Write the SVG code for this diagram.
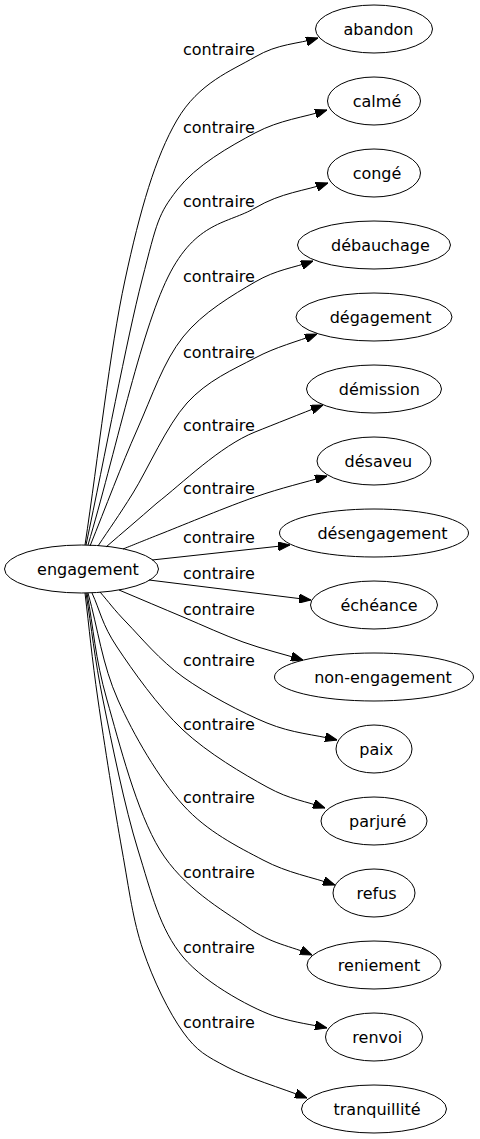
<svg xmlns="http://www.w3.org/2000/svg" width="480" height="1139" viewBox="0 0 480 1139">
<style>
  text { font-family: "DejaVu Sans", "Liberation Sans", sans-serif; font-size: 16px; fill: #000; }
  .node ellipse { fill: none; stroke: #000; stroke-width: 1; }
  .node text { text-anchor: middle; }
  .edge path { fill: none; stroke: #000; stroke-width: 1; marker-end: url(#arrow); }
  .edge text { text-anchor: start; }
</style>
<defs>
  <marker id="arrow" viewBox="0 0 12 9" refX="12" refY="4.5" markerWidth="12" markerHeight="9" markerUnits="userSpaceOnUse" orient="auto">
    <path d="M0,0 L12,4.5 L0,9 Z" fill="#000" stroke="#000" stroke-width="1"/>
  </marker>
</defs>
<rect x="0" y="0" width="480" height="1139" fill="#fff"/>
<g id="connectors">
  <g class="edge" id="e-abandon"><path d="M85,545 C98.3,456.7 109.7,350.8 125,280 C140.3,209.2 155.3,157.2 177,120 C198.7,82.8 231.5,70.7 255,57 C278.5,43.3 297,44.3 318,38"/><text x="183" y="55">contraire</text></g>
  <g class="edge" id="e-calme"><path d="M86,545 C104.7,456.7 126.8,339.2 142,280 C157.2,220.8 158.2,214.5 177,190 C195.8,165.5 230,146.3 255,133 C280,119.7 303,117.7 327,110"/><text x="183" y="133">contraire</text></g>
  <g class="edge" id="e-conge"><path d="M88,545 C114.7,455.7 140.2,333.2 168,277 C195.8,220.8 228.3,223.7 255,208 C281.7,192.3 303.7,191.3 328,183"/><text x="183" y="207">contraire</text></g>
  <g class="edge" id="e-debauchage"><path d="M90,546 C105.7,507.3 121.5,464.8 137,430 C152.5,395.2 163.3,361.7 183,337 C202.7,312.3 233.3,294.7 255,282 C276.7,269.3 293.7,268 313,261"/><text x="183" y="282">contraire</text></g>
  <g class="edge" id="e-degagement"><path d="M98,546 C109.7,528.3 118.2,516.8 133,493 C147.8,469.2 166.7,425.5 187,403 C207.3,380.5 233.3,369.5 255,358 C276.7,346.5 296.3,342 317,334"/><text x="183" y="358">contraire</text></g>
  <g class="edge" id="e-demission"><path d="M106,547 C123,532.3 138.5,519.2 157,503 C181.8,483.8 220,446 255,432 C275,424 300.3,414 323,405"/><text x="183" y="431">contraire</text></g>
  <g class="edge" id="e-desaveu"><path d="M123,549 C136.3,543.7 141,541.7 163,533 C185,524.3 227.7,506.5 255,497 C282.3,487.5 303,483 327,476"/><text x="183" y="494">contraire</text></g>
  <g class="edge" id="e-desengagement"><path d="M152,560 L290,545"/><text x="183" y="543">contraire</text></g>
  <g class="edge" id="e-echeance"><path d="M149,580 L311,600"/><text x="183" y="579">contraire</text></g>
  <g class="edge" id="e-non-engagement"><path d="M119,590 C140.3,599 162.3,608.3 183,617 C203.7,625.7 223,634.8 243,642 C263,649.2 283,654 303,660"/><text x="183" y="615">contraire</text></g>
  <g class="edge" id="e-paix"><path d="M100,592 C109,602.3 113.2,608.8 127,623 C140.8,637.2 159.7,660.3 183,677 C206.3,693.7 241.3,712.5 267,723 C292.7,733.5 313.7,734.3 337,740"/><text x="183" y="666">contraire</text></g>
  <g class="edge" id="e-parjure"><path d="M92,593 C100.3,611 101.8,624.2 117,647 C132.2,669.8 158,706.7 183,730 C208,753.3 243.3,774 267,787 C290.7,800 305.7,801 325,808"/><text x="183" y="730">contraire</text></g>
  <g class="edge" id="e-refus"><path d="M88,593 C98,628.7 102.2,664.7 118,700 C133.8,735.3 158.8,778.3 183,805 C207.2,831.7 237.7,846.7 263,860 C288.3,873.3 311,876.7 335,885"/><text x="183" y="803">contraire</text></g>
  <g class="edge" id="e-reniement"><path d="M87,593 C93.7,628.7 94.8,657.2 107,700 C119.2,742.8 136.7,812.2 160,850 C183.3,887.8 221.7,909.5 247,927 C272.3,944.5 290.3,945.7 312,955"/><text x="183" y="878">contraire</text></g>
  <g class="edge" id="e-renvoi"><path d="M86,593 C91.7,628.7 94.3,657.2 103,700 C111.7,742.8 124.7,807.2 138,850 C151.3,892.8 159.8,929.2 183,957 C206.2,984.8 257,1011 277,1017 C297,1023 310.3,1024.3 327,1028"/><text x="183" y="953">contraire</text></g>
  <g class="edge" id="e-tranquillite"><path d="M85,593 C89.3,628.7 91.8,657.2 98,700 C104.2,742.8 114.5,808.3 122,850 C129.5,891.7 132.8,919.7 143,950 C153.2,980.3 169,1012.5 183,1032 C197,1051.5 206.3,1056 227,1067 C247.7,1078 280.3,1087.7 307,1098"/><text x="183" y="1028">contraire</text></g>
</g>
<g id="n-engagement" class="node"><ellipse cx="81.5" cy="569" rx="77" ry="24"/><text x="88" y="575">engagement</text></g>
<g id="n-abandon" class="node"><ellipse cx="374" cy="29" rx="58.5" ry="24"/><text x="378.5" y="35">abandon</text></g>
<g id="n-calme" class="node"><ellipse cx="374" cy="101" rx="46.5" ry="24"/><text x="377" y="107">calmé</text></g>
<g id="n-conge" class="node"><ellipse cx="374" cy="173" rx="46.5" ry="24"/><text x="377" y="179">congé</text></g>
<g id="n-debauchage" class="node"><ellipse cx="374" cy="245" rx="76.5" ry="24"/><text x="380.4" y="251">débauchage</text></g>
<g id="n-degagement" class="node"><ellipse cx="374" cy="317" rx="78" ry="24"/><text x="380.6" y="323">dégagement</text></g>
<g id="n-demission" class="node"><ellipse cx="374" cy="389" rx="67.5" ry="24"/><text x="379.3" y="395">démission</text></g>
<g id="n-desaveu" class="node"><ellipse cx="374" cy="461" rx="57" ry="24"/><text x="378.4" y="467">désaveu</text></g>
<g id="n-desengagement" class="node"><ellipse cx="374" cy="533" rx="94.5" ry="24"/><text x="382.5" y="539">désengagement</text></g>
<g id="n-echeance" class="node"><ellipse cx="374" cy="605" rx="63.5" ry="24"/><text x="379" y="611">échéance</text></g>
<g id="n-non-engagement" class="node"><ellipse cx="374" cy="677" rx="99.5" ry="24"/><text x="383" y="683">non-engagement</text></g>
<g id="n-paix" class="node"><ellipse cx="374" cy="749" rx="38" ry="24"/><text x="376.2" y="755">paix</text></g>
<g id="n-parjure" class="node"><ellipse cx="374" cy="821" rx="53" ry="24"/><text x="377.7" y="827">parjuré</text></g>
<g id="n-refus" class="node"><ellipse cx="374" cy="893" rx="41" ry="24"/><text x="376.6" y="899">refus</text></g>
<g id="n-reniement" class="node"><ellipse cx="374" cy="965" rx="67" ry="24"/><text x="379" y="971">reniement</text></g>
<g id="n-renvoi" class="node"><ellipse cx="374" cy="1037" rx="48.5" ry="24"/><text x="377.3" y="1043">renvoi</text></g>
<g id="n-tranquillite" class="node"><ellipse cx="374" cy="1109" rx="72.5" ry="24"/><text x="377" y="1115">tranquillité</text></g>
</svg>
